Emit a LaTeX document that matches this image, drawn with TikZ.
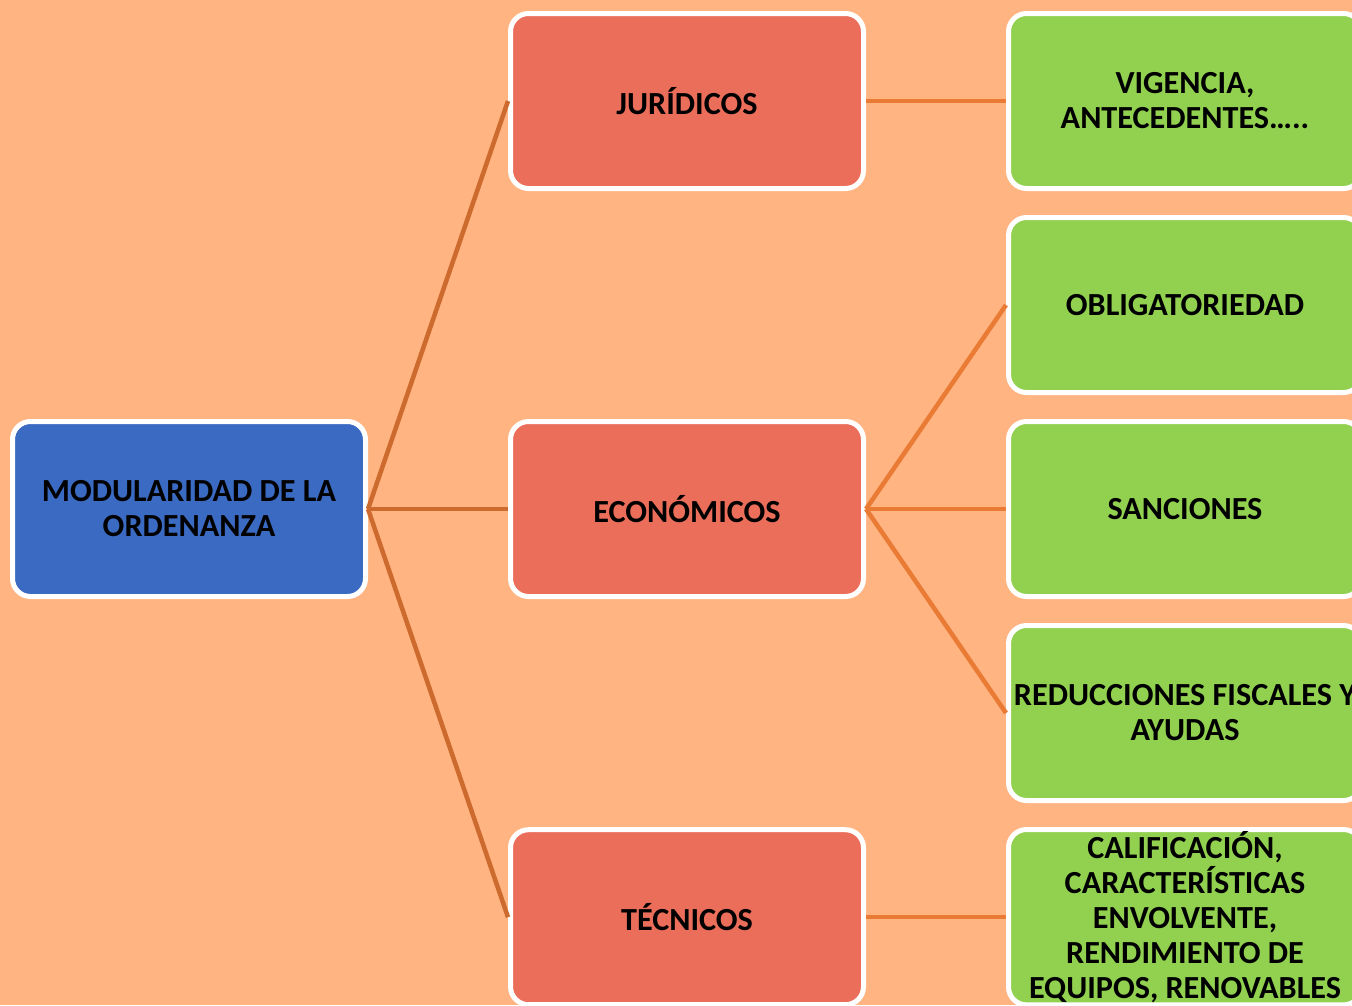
\documentclass[tikz,border=0pt]{standalone}
\usepackage{fontspec}
\setmainfont{Carlito}
\usepackage{xcolor}
\usepackage{tikz}
\usetikzlibrary{positioning}

\definecolor{peach}{HTML}{FFB482}
\definecolor{rootblue}{HTML}{3A6AC2}
\definecolor{catred}{HTML}{EB6E5A}
\definecolor{itemgreen}{HTML}{92D050}
\definecolor{linkdark}{HTML}{CD6A2D}
\definecolor{linklight}{HTML}{E97B35}

\tikzset{
  box/.style={rectangle, rounded corners=18pt, draw=white, line width=5pt,
    minimum width=353pt, minimum height=175pt, inner sep=2pt, align=center,
    text=black, font=\fontsize{32.2}{35}\selectfont\bfseries},
  link/.style={line width=4.5pt}
}

\begin{document}
\begin{tikzpicture}[x=1pt, y=-1pt, node distance=24pt and 140pt]
  \fill[peach] (0,0) rectangle (1352,1005);
  \useasboundingbox (0,0) rectangle (1352,1005);
  \clip (0,0) rectangle (1352,1005);

  \node[box, fill=rootblue] (root) at (189,509) {MODULARIDAD DE LA\\ORDENANZA};
  \node[box, fill=catred, right=of root] (econ) {ECONÓMICOS};
  \node[box, fill=itemgreen, right=of econ] (sanc) {SANCIONES};
  \node[box, fill=itemgreen, above=of sanc] (oblig) {OBLIGATORIEDAD};
  \node[box, fill=itemgreen, above=of oblig] (vig) {VIGENCIA,\\ANTECEDENTES…..};
  \node[box, fill=itemgreen, below=of sanc] (reduc) {REDUCCIONES FISCALES Y\\AYUDAS};
  \node[box, fill=itemgreen, below=of reduc] (calif) {CALIFICACIÓN,\\CARACTERÍSTICAS\\ENVOLVENTE,\\RENDIMIENTO DE\\EQUIPOS, RENOVABLES};
  \node[box, fill=catred, left=of vig] (jur) {JURÍDICOS};
  \node[box, fill=catred, left=of calif] (tec) {TÉCNICOS};

  \draw[link, linkdark] (root.east) -- (jur.west);
  \draw[link, linkdark] (root.east) -- (econ.west);
  \draw[link, linkdark] (root.east) -- (tec.west);
  \draw[link, linklight] (jur.east) -- (vig.west);
  \draw[link, linklight] (econ.east) -- (oblig.west);
  \draw[link, linklight] (econ.east) -- (sanc.west);
  \draw[link, linklight] (econ.east) -- (reduc.west);
  \draw[link, linklight] (tec.east) -- (calif.west);
\end{tikzpicture}
\end{document}
